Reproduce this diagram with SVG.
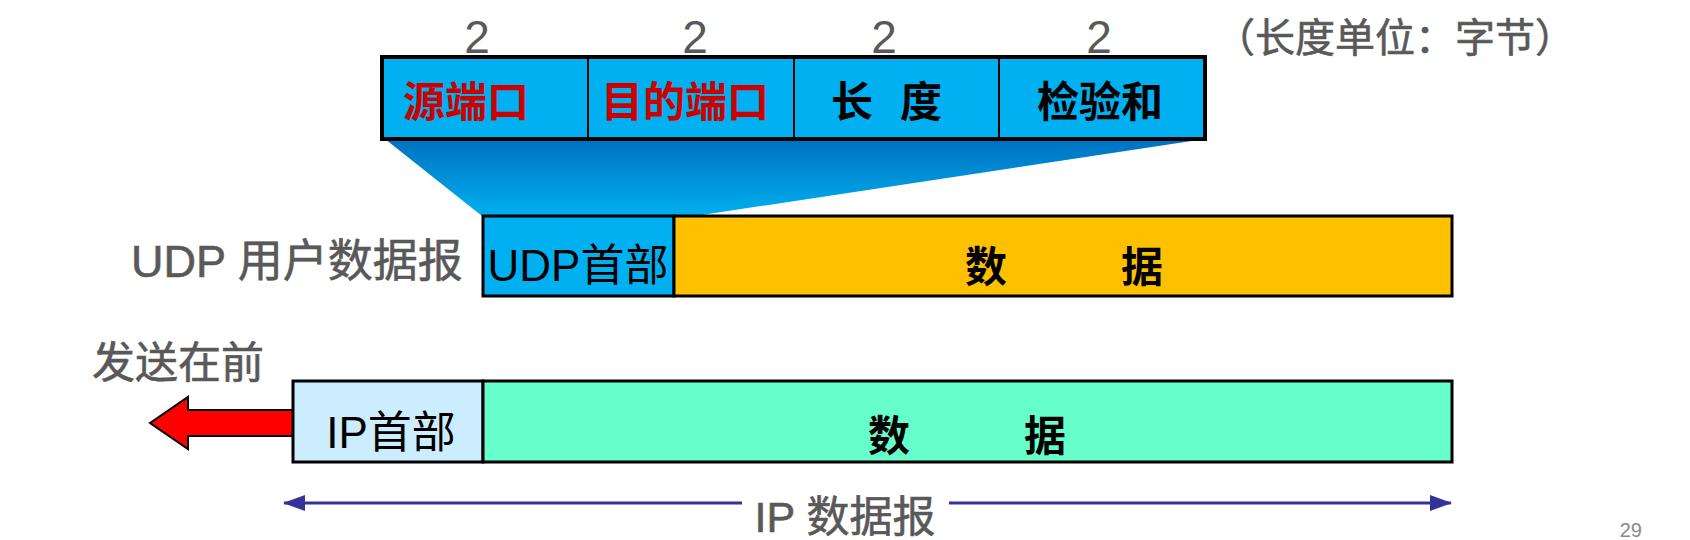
<svg xmlns="http://www.w3.org/2000/svg" width="1690" height="540" viewBox="0 0 1690 540">
<style>
text{font-family:"Liberation Sans","Noto Sans CJK SC",sans-serif;}
.num{font-size:46px;fill:#595959;}
.gray{font-size:43px;fill:#595959;stroke:#595959;stroke-width:0.6;}
.fld{font-size:42px;font-weight:bold;}
.red{fill:#CC0000;}
.blk{fill:#000;}
.box{stroke:#000;stroke-width:3;}
.hdr{font-size:44px;fill:#000;}
.dat{font-size:42px;font-weight:bold;fill:#000;}
</style>
<defs>
<linearGradient id="g" x1="0" y1="0" x2="0" y2="1">
<stop offset="0" stop-color="#0070C0"/>
<stop offset="1" stop-color="#00B0F0"/>
</linearGradient>
<marker id="ah" viewBox="0 0 22 16" refX="21" refY="8" markerWidth="22" markerHeight="16" markerUnits="userSpaceOnUse" orient="auto-start-reverse">
<path d="M0,0 L22,8 L0,16 Z" fill="#333399"/>
</marker>
</defs>

<g id="zoom-fan">
<polygon points="385,139 1205,139 695,216 482,216" fill="url(#g)"/>
</g>

<g id="udp-header-fields">
<text class="num" x="477" y="53" text-anchor="middle">2</text>
<text class="num" x="695" y="53" text-anchor="middle">2</text>
<text class="num" x="884" y="53" text-anchor="middle">2</text>
<text class="num" x="1099" y="53" text-anchor="middle">2</text>
<text class="gray" x="1395" y="52" text-anchor="middle" style="font-size:40px">（长度单位：字节）</text>
<rect x="382" y="57" width="823" height="82" fill="#00B0F0" stroke="#000" stroke-width="4"/>
<line x1="588" y1="57" x2="588" y2="139" stroke="#000" stroke-width="2"/>
<line x1="794" y1="57" x2="794" y2="139" stroke="#000" stroke-width="2"/>
<line x1="999" y1="57" x2="999" y2="139" stroke="#000" stroke-width="2"/>
<text class="fld red" x="466" y="117" text-anchor="middle">源端口</text>
<text class="fld red" x="685" y="117" text-anchor="middle">目的端口</text>
<text class="fld blk" x="852" y="117" text-anchor="middle">长</text>
<text class="fld blk" x="921" y="117" text-anchor="middle">度</text>
<text class="fld blk" x="1100" y="117" text-anchor="middle">检验和</text>
</g>

<g id="udp-datagram">
<text class="gray" x="131" y="277" style="font-size:45px">UDP 用户数据报</text>
<rect class="box" x="483" y="216" width="191" height="80" fill="#00B0F0"/>
<text class="hdr" x="578" y="281" text-anchor="middle">UDP首部</text>
<rect class="box" x="674" y="216" width="778" height="80" fill="#FFC000"/>
<text class="dat" x="986" y="282" text-anchor="middle">数</text>
<text class="dat" x="1142" y="282" text-anchor="middle">据</text>
</g>

<g id="ip-datagram">
<text class="gray" x="92" y="378">发送在前</text>
<polygon points="150,423 188,397 188,410 293,410 293,436 188,436 188,449" fill="#FF0000" stroke="#000" stroke-width="2"/>
<rect class="box" x="293" y="381" width="190" height="81" fill="#CCECFF"/>
<text class="hdr" x="391" y="448" text-anchor="middle">IP首部</text>
<rect class="box" x="483" y="381" width="969" height="81" fill="#66FFCC"/>
<text class="dat" x="889" y="451" text-anchor="middle">数</text>
<text class="dat" x="1045" y="451" text-anchor="middle">据</text>
</g>

<g id="connectors">
<line x1="742" y1="503" x2="284" y2="503" stroke="#333399" stroke-width="3" marker-end="url(#ah)"/>
<line x1="949" y1="503" x2="1451" y2="503" stroke="#333399" stroke-width="3" marker-end="url(#ah)"/>
</g>
<text class="gray" x="845" y="532" text-anchor="middle">IP 数据报</text>
<text x="1642" y="537" text-anchor="end" style="font-size:20px;fill:#888888">29</text>
</svg>
